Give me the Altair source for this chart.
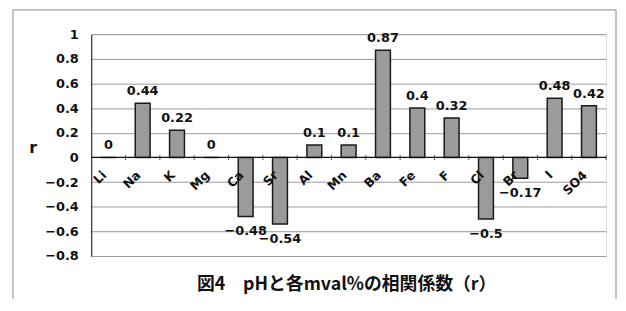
import altair as alt
import pandas as pd

elements = ["Li", "Na", "K", "Mg", "Ca", "Sr", "Al", "Mn", "Ba", "Fe", "F", "Cl", "Br", "I", "SO4"]
r_values = [0, 0.44, 0.22, 0, -0.48, -0.54, 0.1, 0.1, 0.87, 0.4, 0.32, -0.5, -0.17, 0.48, 0.42]
y_ticks = [-0.8, -0.6, -0.4, -0.2, 0, 0.2, 0.4, 0.6, 0.8, 1]
title_text = "図4　pHと各mval%の相関係数（r）"
y_title = "r"

df = pd.DataFrame({"element": elements, "r": r_values})
df["label"] = [f"{v:g}".replace("-", "\u2212") for v in r_values]

W, H = 520, 224
FONT = "DejaVu Sans"
step = W / len(elements)

x_enc = alt.X("element:N", sort=elements, axis=None,
              scale=alt.Scale(paddingInner=0.567, paddingOuter=0.2835))
y_scale = alt.Scale(domain=[-0.8, 1], nice=False, zero=False)
y_axis = alt.Axis(values=y_ticks, format="~g", title=y_title, titleAngle=0,
                  titleX=-59, titleY=114, titleAlign="center", titleBaseline="middle",
                  titleFont=FONT, titleFontSize=16, titleFontWeight="bold", titleColor="#111",
                  labelFont=FONT, labelFontSize=13, labelFontWeight="bold", labelColor="#111",
                  labelOverlap=False, labelPadding=13, ticks=False, grid=True,
                  gridColor="#999999", gridWidth=1, domainColor="#333333", domainWidth=1.2)

base = alt.Chart(df).encode(x=x_enc)
one = pd.DataFrame({"a": [0]})

frame = alt.Chart(one).mark_rect(
    fillOpacity=0, stroke="#888888", strokeWidth=1
).encode(x=alt.value(-79), x2=alt.value(530), y=alt.value(-24.5), y2=alt.value(300))

bars = base.mark_bar(color="#9b9b9b", stroke="#1a1a1a", strokeWidth=1.5).encode(
    y=alt.Y("r:Q", scale=y_scale, axis=y_axis)
)

zero_rule = alt.Chart(one).mark_rule(color="#111", strokeWidth=1.2).encode(
    y=alt.datum(0, scale=y_scale, axis=y_axis)
)

ticks = base.mark_tick(orient="vertical", size=5, thickness=1, color="#111", xOffset=step / 2).encode(
    y=alt.datum(0, scale=y_scale, axis=y_axis)
)

cat_labels = base.mark_text(angle=315, align="right", baseline="middle", xOffset=-4, yOffset=16,
                            font=FONT, fontSize=12.5, fontWeight="bold", color="#111").encode(
    y=alt.datum(0, scale=y_scale, axis=y_axis), text="element:N"
)

pos_labels = base.transform_filter("datum.r >= 0").mark_text(
    baseline="bottom", dy=-5, font=FONT, fontSize=13, fontWeight="bold", color="#111"
).encode(y=alt.Y("r:Q", scale=y_scale, axis=y_axis), text="label:N")

neg_labels = base.transform_filter("datum.r < 0").mark_text(
    baseline="top", dy=9, font=FONT, fontSize=13, fontWeight="bold", color="#111"
).encode(y=alt.Y("r:Q", scale=y_scale, axis=y_axis), text="label:N")

title = alt.Chart(pd.DataFrame({"t": [title_text]})).mark_text(
    font="Noto Sans CJK JP", fontSize=18, fontWeight="bold", color="#111",
    align="center", baseline="middle"
).encode(x=alt.value(W / 2 - 2), y=alt.value(253), text="t:N")

chart = alt.layer(frame, bars, zero_rule, ticks, cat_labels, pos_labels, neg_labels, title).properties(
    width=W, height=H,
    autosize=alt.AutoSizeParams(type="none"),
    padding={"left": 84, "top": 25, "right": 12, "bottom": 42},
).configure_view(stroke="#777777", strokeWidth=1).configure(background="white")

chart.save("out.html", embed_options={"renderer": "svg", "actions": False})
